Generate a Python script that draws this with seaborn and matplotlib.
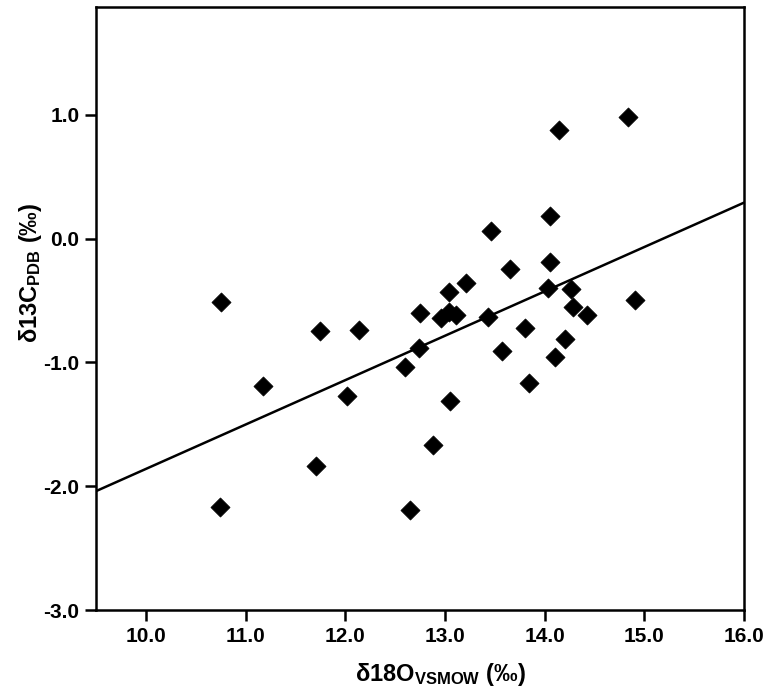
import matplotlib
matplotlib.use("Agg")
import matplotlib.pyplot as plt
import seaborn as sns
import numpy as np
import pandas as pd

# ---- data ----
d18O = [10.75, 10.74, 11.18, 11.71, 11.75, 12.02, 12.14, 12.60, 12.65, 12.74,
        12.75, 12.88, 12.96, 13.04, 13.11, 13.04, 13.05, 13.21, 13.43, 13.46,
        13.57, 13.65, 13.80, 13.84, 14.03, 14.05, 14.05, 14.10, 14.14, 14.20,
        14.26, 14.28, 14.43, 14.84, 14.91]
d13C = [-0.51, -2.17, -1.19, -1.84, -0.75, -1.27, -0.74, -1.04, -2.19, -0.88,
        -0.60, -1.67, -0.64, -0.59, -0.62, -0.43, -1.31, -0.36, -0.63, 0.06,
        -0.91, -0.25, -0.72, -1.17, -0.40, -0.19, 0.18, -0.96, 0.88, -0.81,
        -0.41, -0.55, -0.62, 0.98, -0.50]
fit_x = [9.5, 16.0]
fit_y = [-2.04, 0.29]
x_ticks = [10.0, 11.0, 12.0, 13.0, 14.0, 15.0, 16.0]
y_ticks = [-3.0, -2.0, -1.0, 0.0, 1.0]

df = pd.DataFrame({"x": d18O, "y": d13C})
fit = pd.DataFrame({"x": fit_x, "y": fit_y})

sns.set_theme(style="ticks", rc={"text.color": "black",
                                 "axes.labelcolor": "black",
                                 "xtick.color": "black",
                                 "ytick.color": "black",
                                 "axes.edgecolor": "black"})
fams = ["Liberation Sans", "DejaVu Sans"]
plt.rcParams["font.family"] = fams
plt.rcParams["mathtext.fontset"] = "custom"
plt.rcParams["mathtext.rm"] = "Liberation Sans:bold"
plt.rcParams["mathtext.bf"] = "Liberation Sans:bold"
plt.rcParams["mathtext.it"] = "Liberation Sans:bold"

fig = plt.figure(figsize=(7.73, 6.93), dpi=100)
ax = fig.add_axes([96 / 773, 83 / 693, 648 / 773, 603 / 693])

sns.scatterplot(data=df, x="x", y="y", ax=ax, marker="D", s=95,
                color="black", edgecolor="black", linewidth=0.5, zorder=3)
sns.lineplot(data=fit, x="x", y="y", ax=ax, color="black", linewidth=1.8,
             zorder=2)

ax.set_xlim(9.5, 16.0)
ax.set_ylim(-3.0, 1.87)
ax.set_xticks(x_ticks)
ax.set_yticks(y_ticks)
ax.set_xticklabels([f"{v:.1f}" for v in x_ticks])
ax.set_yticklabels([f"{v:.1f}" for v in y_ticks])

for s in ax.spines.values():
    s.set_linewidth(1.8)
    s.set_color("black")
ax.tick_params(axis="both", direction="out", length=8, width=1.8,
               color="black", labelcolor="black", labelsize=15, pad=4)
for lab in ax.get_xticklabels() + ax.get_yticklabels():
    lab.set_fontweight("bold")

ax.set_xlabel("$\\mathbf{δ18O}_{\\mathbf{VSMOW}}$ (‰)", fontsize=17,
              fontweight="bold", color="black")
ax.set_ylabel("$\\mathbf{δ13C}_{\\mathbf{PDB}}$ (‰)", fontsize=17,
              fontweight="bold", color="black")
ax.xaxis.set_label_coords(0.532, -0.085)
ax.yaxis.set_label_coords(-0.08, 0.559)

fig.savefig("out.png", dpi=100, facecolor="white")
